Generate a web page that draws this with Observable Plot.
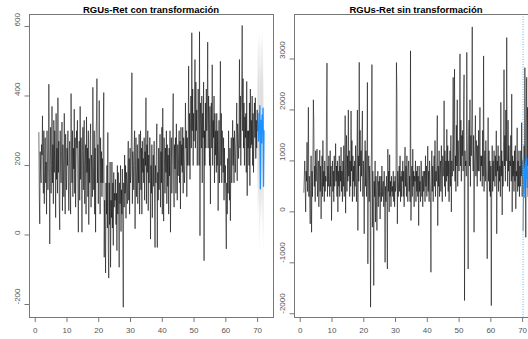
<!DOCTYPE html>
<html><head><meta charset="utf-8">
<script src="https://cdn.jsdelivr.net/npm/d3@7"></script>
<script src="https://cdn.jsdelivr.net/npm/@observablehq/plot@0.6"></script>
<style>
html,body{margin:0;padding:0;background:#fff;overflow:hidden}
#wrap{position:relative;width:528px;height:339px;overflow:hidden;font-family:"Liberation Sans",Arial,sans-serif}
.panel{position:absolute;top:0}
.title{position:absolute;top:5px;font-weight:bold;font-size:9.5px;line-height:1;transform:translateX(-50%);white-space:nowrap;color:#000}
</style></head><body>
<div id="wrap"></div>
<script>
const leftTitle = "RGUs-Ret con transformación";
const rightTitle = "RGUs-Ret sin transformación";
const xTicks = [0, 10, 20, 30, 40, 50, 60, 70];
const leftYTicks = [-200, 0, 200, 400, 600];
const rightYTicks = [-2000, -1000, 0, 1000, 2000, 3000];
const histStart = 1 + 1/7;   // first observation (week 1, day 2)
const fcStart = 70 + 1/7;    // first forecast day
const perWeek = 7;

// Left panel: daily series (7 values per week), weeks 1..69
const leftHist = [
295,110,32,240,180,150,260, 230,343,180,120,300,90,200, 280,150,210,60,300,200,130,
180,434,250,-26,200,310,120, 200,370,150,260,90,330,180, 300,210,50,350,160,250,120,
395,180,270,90,15,300,200, 150,240,325,70,260,190,110, 350,180,60,290,210,130,250,
200,300,150,70,240,270,120, 60,407,230,150,300,110,250, 190,362,120,280,80,220,300,
250,330,150,8,210,270,100, 370,160,280,200,8,240,310, 130,290,330,90,200,260,60,
340,180,250,110,300,30,220, 150,270,320,80,230,190,110, 425,200,130,300,60,250,8,
280,330,450,150,260,90,230, 387,200,60,280,150,240,110, 220,150,300,410,-64,100,30,
-109,150,60,200,20,295,-40, -124,150,30,210,-93,100,50, 210,20,150,-30,180,80,120,
100,160,30,120,-45,200,60, 180,40,-93,150,90,200,10, 130,60,190,-20,-208,150,80,
230,120,200,48,180,150,90, 200,270,100,220,60,250,150, 180,300,467,90,240,200,130,
250,300,18,200,280,110,180, 260,90,220,150,290,60,200, 300,130,250,60,270,180,220,
150,280,100,240,200,395,90, 260,180,300,70,230,150,280, 280,-12,200,120,260,50,180,
230,140,270,90,-36,200,150, 260,320,-36,180,100,250,130, 200,290,80,240,150,310,60,
365,150,40,280,200,120,250, 180,300,90,260,140,230,60, 250,170,300,8,200,280,120,
200,300,407,150,80,260,190, 280,120,320,200,100,260,170, 230,300,150,270,75,310,200,
260,180,310,120,280,200,150, 220,380,250,300,110,280,200, 260,486,200,350,160,300,400,
250,582,300,420,200,350,270, 380,505,250,440,300,360,200, 300,420,350,200,585,-2,380,
320,250,400,150,350,280,440, -74,300,200,380,250,420,300, 350,555,250,400,320,200,370,
89,300,380,250,490,200,330, 280,400,150,350,230,300,180, 350,200,300,70,260,330,150,
280,500,200,350,150,300,250, 180,280,100,250,150,200,60, -40,150,60,220,120,300,200,
100,250,41,200,280,150,230, 330,200,280,150,300,250,180, 250,300,380,156,320,280,220,
300,505,250,400,200,350,420, 603,300,450,250,380,200,340, 280,350,180,442,113,300,250,
300,200,380,142,420,250,330, 260,400,200,350,180,300,380, 280,395,220,330,250,360,300
];
const leftFcMean = [320,270,350,300,372,133,280,330,265,345,295,365,140,300];
const leftFcHi80 = [470,420,500,450,520,290,430,480,420,500,450,520,300,460];
const leftFcLo80 = [170,120,200,150,220,-25,130,180,110,190,140,210,-20,140];
const leftFcHi95 = [550,500,580,530,600,370,510,560,500,580,530,600,380,540];
const leftFcLo95 = [90,40,120,70,140,-60,50,100,30,110,60,130,-60,60];

// Right panel: daily series, weeks 1..69
const rightHist = [
385,700,1000,500,0,800,600, 1365,400,900,2050,300,700,200, -235,600,1100,-400,800,300,1000,
2200,1700,500,900,200,1200,600, 800,1230,300,700,1000,100,500, 1210,400,900,-137,600,1100,300,
1400,500,800,200,1000,400,700, 600,1980,2920,300,900,500,1100, 700,300,1200,500,900,-170,600,
1000,400,800,200,1100,500,700, 1340,600,900,300,1000,0,800, 500,1100,300,900,600,1270,400,
800,200,1000,500,1300,300,700, 1890,-25,900,1500,400,1100,600, 2000,700,1200,300,1000,500,1980,
800,1400,200,1100,600,900,300, 1000,500,1300,700,200,1200,2000, -365,1100,600,2935,900,1600,400,
1200,700,1500,1980,300,1000,600, -430,900,1400,500,1200,300,800, 2540,-1020,600,1100,200,900,400,
-1870,700,1200,2890,-300,800,400, -1445,600,300,1000,-200,700,200, -365,500,800,100,600,300,700,
-140,400,700,200,900,300,500, 600,100,800,300,-990,500,200, 700,300,-1120,1230,400,800,0,
1120,300,600,100,700,400,500, 300,800,200,600,100,700,400, 500,2930,2340,-235,800,300,600,
900,400,1100,200,700,300,800, 600,1000,300,800,100,900,1270, 500,900,300,1100,600,200,800,
1000,400,700,200,3160,-170,600, 900,300,1230,500,800,100,700, 600,1000,200,800,400,900,300,
700,-270,900,400,600,200,1000, 970,300,700,100,800,400,600, 800,200,1100,500,900,300,700,
1290,400,800,200,1000,600,300, -1185,700,1200,400,900,200,800, 1100,500,1400,300,800,600,1000,
1890,-270,900,500,1200,300,800, 1000,400,1300,600,200,1100,700, 900,2180,500,1200,300,1000,600,
1620,700,1300,400,1000,200,900, 1200,500,1500,0,1000,700,1400, 2640,800,1500,2800,600,1100,400,
1700,900,2200,500,1400,1000,800, 1300,3100,900,1800,600,1500,1100, 1600,800,2000,2690,-1740,1200,900,
1000,700,3130,1500,600,-1120,1400, 1800,900,2200,500,1500,1100,1900, 3630,1200,800,1500,-400,900,1300,
1890,700,1400,1000,500,1300,800, 1600,800,1200,2050,600,1100,900, 1100,500,1600,700,3060,400,1000,
1200,600,1400,900,500,-920,800, 1850,600,1200,400,1000,300,900, -1840,800,1300,400,1000,600,1200,
900,500,1100,700,1590,-430,1000, 800,1300,400,1100,600,900,300, 2150,700,1200,-60,1000,500,1400,
2790,900,1500,600,2000,1000,3420, 1200,500,1800,800,1300,400,1000, 900,1500,600,2310,0,1100,700,
1000,400,1200,600,1300,60,800, 700,1650,400,1000,500,1200,300, 900,500,1200,700,1750,300,1000
];
const rightTest = [-365,500,1300,800,2830,1400,-500,1800,2640,900,2050,600,1500,1000,700,1200,400];
const rightFcMean = [700,1065,500,850,285,900,1000,650,1050,480,820,300,880,980];

const series = (arr, t0) => arr.map((v, i) => ({t: t0 + i / perWeek, v}));
const fcTable = (mean, lo80, hi80, lo95, hi95) => mean.map((m, i) => ({
  t: fcStart + i / perWeek, m,
  lo80: lo80 ? lo80[i] : null, hi80: hi80 ? hi80[i] : null,
  lo95: lo95 ? lo95[i] : null, hi95: hi95 ? hi95[i] : null
}));

const FONT = '"Liberation Sans", Arial, sans-serif';
const AX = "#777", TXT = "#555";

function panel({hist, test, fc, bands, yDomain, yTicks, mLeft, mRight, vline}) {
  const marks = [];
  if (bands) {
    marks.push(Plot.areaY(fc, {x: "t", y1: "lo95", y2: "hi95", fill: "#ececec"}));
    marks.push(Plot.areaY(fc, {x: "t", y1: "lo80", y2: "hi80", fill: "#dedede"}));
  }
  marks.push(Plot.lineY(hist, {x: "t", y: "v", stroke: "#000", strokeWidth: 0.55}));
  if (test) marks.push(Plot.lineY(test, {x: "t", y: "v", stroke: "#000", strokeWidth: 0.55}));
  marks.push(Plot.lineY(fc, {x: "t", y: "m", stroke: "#1E90FF", strokeWidth: 1.3}));
  if (vline != null) marks.push(Plot.ruleX([vline], {stroke: "#63b3f5", strokeWidth: 1, strokeDasharray: "1,1.5"}));
  marks.push(Plot.frame({stroke: AX}));
  marks.push(Plot.axisX({ticks: xTicks, tickSize: 5, tickPadding: 5, stroke: AX, fill: TXT, fontSize: 8, label: null}));
  marks.push(Plot.axisY({ticks: yTicks, tickSize: 4.5, tickFormat: () => "", stroke: AX, label: null}));
  marks.push(Plot.text(yTicks, {y: d => d, text: d => String(d), frameAnchor: "left", dx: -12, rotate: -90, fill: TXT, fontSize: 8}));
  return Plot.plot({
    width: mLeft + 244 + mRight, height: 339,
    marginTop: 14, marginBottom: 22, marginLeft: mLeft, marginRight: mRight,
    x: {domain: [-1.8, 75.0]},
    y: {domain: yDomain},
    style: {fontFamily: FONT, background: "transparent", maxWidth: "none", overflow: "visible"},
    marks
  });
}

const wrap = document.getElementById("wrap");
function place(svg, left) {
  const d = document.createElement("div");
  d.className = "panel"; d.style.left = left + "px";
  d.appendChild(svg); wrap.appendChild(d);
}
function addTitle(text, cx) {
  const t = document.createElement("div");
  t.className = "title"; t.style.left = cx + "px"; t.textContent = text;
  wrap.appendChild(t);
}

place(panel({
  hist: series(leftHist, histStart),
  fc: fcTable(leftFcMean, leftFcLo80, leftFcHi80, leftFcLo95, leftFcHi95),
  bands: true, yDomain: [-237.4, 634.5], yTicks: leftYTicks, mLeft: 29, mRight: 7
}), 0);
place(panel({
  hist: series(rightHist, histStart),
  test: series(rightTest, fcStart),
  fc: fcTable(rightFcMean),
  bands: false, yDomain: [-2073, 3873], yTicks: rightYTicks, mLeft: 30, mRight: 10, vline: fcStart
}), 264);
addTitle(leftTitle, 151);
addTitle(rightTitle, 416);
</script>
</body></html>
